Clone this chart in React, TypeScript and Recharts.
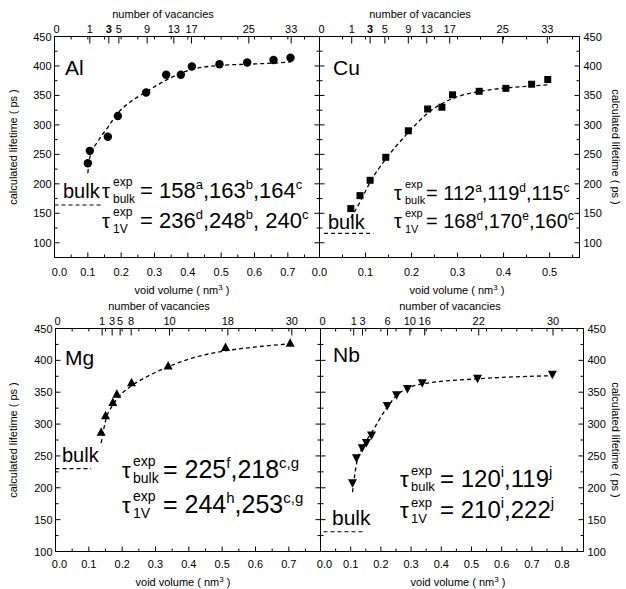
import { ComposedChart, XAxis, YAxis, Line, Scatter } from "recharts";

const FONT = '"Liberation Sans", Arial, sans-serif';

// Al
const alVolume = [0.1, 0.106, 0.16, 0.19, 0.275, 0.335, 0.379, 0.412, 0.495, 0.578, 0.657, 0.708];
const alLifetime = [235, 256, 280, 315, 355, 385, 385, 399, 403, 406, 410, 414];
const alFitVolume = [0.1, 0.106, 0.13, 0.16, 0.19, 0.23, 0.275, 0.335, 0.41, 0.5, 0.58, 0.66, 0.71];
const alFitLifetime = [218, 245, 272, 296, 320, 340, 356, 376, 394, 401, 403, 405, 407];
const alBulkVolume = [0, 0.14];
const alBulkLifetime = [164, 164];
const alVacancyCount = [0, 1, 3, 5, 9, 13, 17, 25, 33];
const alVacancyVolume = [0, 0.106, 0.163, 0.193, 0.278, 0.358, 0.411, 0.583, 0.71];

// Cu
const cuVolume = [0.068, 0.088, 0.11, 0.144, 0.193, 0.235, 0.266, 0.289, 0.347, 0.405, 0.461, 0.496];
const cuLifetime = [158, 180, 206, 245, 290, 327, 330, 351, 357, 362, 369, 377];
const cuFitVolume = [0.068, 0.09, 0.11, 0.144, 0.193, 0.235, 0.29, 0.35, 0.41, 0.46, 0.5];
const cuFitLifetime = [142, 172, 203, 242, 287, 320, 345, 357, 363, 366, 368];
const cuBulkVolume = [0.01, 0.117];
const cuBulkLifetime = [116, 116];
const cuVacancyCount = [0, 1, 3, 5, 9, 13, 17, 25, 33];
const cuVacancyVolume = [0, 0.07, 0.11, 0.142, 0.193, 0.233, 0.283, 0.398, 0.495];

// Mg
const mgVolume = [0.137, 0.15, 0.172, 0.184, 0.228, 0.338, 0.51, 0.704];
const mgLifetime = [287, 313, 334, 347, 365, 391, 420, 427];
const mgFitVolume = [0.137, 0.15, 0.172, 0.19, 0.228, 0.28, 0.338, 0.42, 0.51, 0.6, 0.704];
const mgFitLifetime = [270, 305, 330, 343, 360, 376, 390, 405, 415, 421, 426];
const mgBulkVolume = [0, 0.107];
const mgBulkLifetime = [230, 230];
const mgVacancyCount = [0, 1, 3, 5, 8, 10, 18, 30];
const mgVacancyVolume = [0, 0.14, 0.17, 0.194, 0.227, 0.342, 0.517, 0.709];

// Nb
const nbVolume = [0.106, 0.119, 0.138, 0.152, 0.169, 0.221, 0.252, 0.288, 0.337, 0.52, 0.768];
const nbLifetime = [208, 247, 263, 271, 283, 329, 346, 356, 365, 372, 378];
const nbFitVolume = [0.106, 0.12, 0.138, 0.17, 0.22, 0.25, 0.288, 0.337, 0.52, 0.768];
const nbFitLifetime = [193, 240, 262, 287, 326, 344, 356, 363, 371, 376];
const nbBulkVolume = [0.01, 0.139];
const nbBulkLifetime = [131, 131];
const nbVacancyCount = [0, 1, 3, 6, 10, 16, 22, 30];
const nbVacancyVolume = [0, 0.11, 0.139, 0.222, 0.296, 0.345, 0.524, 0.77];

// ticks
const xTicks08 = [0, 0.05, 0.1, 0.15, 0.2, 0.25, 0.3, 0.35, 0.4, 0.45, 0.5, 0.55, 0.6, 0.65, 0.7, 0.75];
const xTicks05 = [0, 0.05, 0.1, 0.15, 0.2, 0.25, 0.3, 0.35, 0.4, 0.45, 0.5, 0.55];
const xTicks09 = [0, 0.05, 0.1, 0.15, 0.2, 0.25, 0.3, 0.35, 0.4, 0.45, 0.5, 0.55, 0.6, 0.65, 0.7, 0.75, 0.8, 0.85];
const yTicksTop = [75, 100, 125, 150, 175, 200, 225, 250, 275, 300, 325, 350, 375, 400, 425, 450];
const yTicksBottom = [100, 125, 150, 175, 200, 225, 250, 275, 300, 325, 350, 375, 400, 425, 450];

type Pt = { x: number; y: number };
const pts = (xs: number[], ys: number[]): Pt[] => xs.map((x, i) => ({ x, y: ys[i] }));

const circle = (s: any) => <circle cx={s.cx} cy={s.cy} r={4.2} fill="#000" />;
const square = (s: any) => <rect x={s.cx - 3.5} y={s.cy - 3.5} width={7} height={7} fill="#000" />;
const triUp = (s: any) => (
  <polygon points={`${s.cx},${s.cy - 5} ${s.cx + 4.5},${s.cy + 3.5} ${s.cx - 4.5},${s.cy + 3.5}`} fill="#000" />
);
const triDown = (s: any) => (
  <polygon points={`${s.cx},${s.cy + 5} ${s.cx + 4.5},${s.cy - 3.5} ${s.cx - 4.5},${s.cy - 3.5}`} fill="#000" />
);

const isMajorX = (v: number) => Math.round(v * 100) % 10 === 0;
const axisLine = { stroke: "#000", strokeWidth: 1 };

// plot: the rectangle of the data area in the panel's own pixels
function Panel(p: any) {
  const vac = new Map<number, number>(p.vacVolume.map((v: number, i: number) => [v, p.vacCount[i]]));
  const topTicks = [...p.vacVolume, ...p.xTicks.filter((v: number) => v > 0)];
  const [pl, pt, pr, pb] = p.plot;
  const margin = { left: pl - 1, top: pt - 1, right: p.width - pr - 1, bottom: p.height - pb - 1 };

  const bottomTick = ({ x, payload }: any) => {
    const major = isMajorX(payload.value);
    return (
      <g>
        <line x1={x} x2={x} y1={pb} y2={pb - (major ? 5 : 3)} stroke="#000" />
        {major && (
          <text
            x={x + (payload.value === 0 ? p.zeroShift : 0)}
            y={pb + p.labelGap}
            textAnchor="middle"
            fontSize={11}
            fontFamily={FONT}
            fill="#000"
          >
            {payload.value.toFixed(1)}
          </text>
        )}
      </g>
    );
  };
  const topTick = ({ x, payload }: any) => {
    const n = vac.get(payload.value);
    return (
      <g>
        <line x1={x} x2={x} y1={pt} y2={pt + (n !== undefined ? 7 : 3)} stroke="#000" />
        {n !== undefined && (
          <text
            x={x + (n === 0 ? 2 : 0)}
            y={pt - 4}
            textAnchor="middle"
            fontSize={11}
            fontFamily={FONT}
            fontWeight={p.boldThree && n === 3 ? "bold" : "normal"}
            fill="#000"
          >
            {n}
          </text>
        )}
      </g>
    );
  };
  const leftTick = ({ y, payload }: any) => {
    const major = payload.value % 50 === 0;
    return (
      <g>
        <line x1={pl} x2={pl + (major ? 5 : 3)} y1={y} y2={y} stroke="#000" />
        {major && p.leftLabels && (
          <text x={pl - 3} y={y + 4} textAnchor="end" fontSize={11} fontFamily={FONT} fill="#000">
            {payload.value}
          </text>
        )}
      </g>
    );
  };
  const rightTick = ({ y, payload }: any) => {
    const major = payload.value % 50 === 0;
    return (
      <g>
        <line x1={pr} x2={pr - (major ? 5 : 3)} y1={y} y2={y} stroke="#000" />
        {major && p.rightLabels && (
          <text x={pr + 4} y={y + 4} textAnchor="start" fontSize={11} fontFamily={FONT} fill="#000">
            {payload.value}
          </text>
        )}
      </g>
    );
  };

  const common = { type: "number" as const, allowDataOverflow: true, interval: 0 as const, tickSize: 0, tickMargin: 0, tickLine: false, axisLine };

  return (
    <div style={{ position: "absolute", left: p.left, top: p.top }}>
      <ComposedChart width={p.width} height={p.height} margin={margin}>
        <XAxis xAxisId="b" dataKey="x" domain={p.xDomain} ticks={p.xTicks} height={1} tick={bottomTick} {...common} />
        <XAxis xAxisId="t" orientation="top" dataKey="x" domain={p.xDomain} ticks={topTicks} height={1} tick={topTick} {...common} />
        <YAxis yAxisId="l" dataKey="y" domain={p.yDomain} ticks={p.yTicks} width={1} tick={leftTick} {...common} />
        <YAxis yAxisId="r" orientation="right" dataKey="y" domain={p.yDomain} ticks={p.yTicks} width={1} tick={rightTick} {...common} />
        <Line
          xAxisId="b"
          yAxisId="l"
          data={p.bulk}
          dataKey="y"
          type="linear"
          stroke="#000"
          strokeWidth={1.1}
          strokeDasharray="4 3"
          dot={false}
          activeDot={false}
          isAnimationActive={false}
        />
        <Line
          xAxisId="b"
          yAxisId="l"
          data={p.fit}
          dataKey="y"
          type="monotone"
          stroke="#000"
          strokeWidth={1.3}
          strokeDasharray="4 3"
          dot={false}
          activeDot={false}
          isAnimationActive={false}
        />
        <Scatter xAxisId="b" yAxisId="l" data={p.points} dataKey="y" shape={p.shape} isAnimationActive={false} />
      </ComposedChart>
    </div>
  );
}

function Tau({ tx, y, vx, sub, parts, ts, ss, vs, vss, up = 12, down = 5 }: any) {
  const shift = vs * 0.42;
  return (
    <g fontFamily={FONT} fill="#000">
      <text x={tx} y={y} fontSize={ts}>τ</text>
      <text x={tx + 11} y={y - up} fontSize={ss}>exp</text>
      <text x={tx + 11} y={y + down} fontSize={ss}>{sub}</text>
      <text x={vx} y={y} fontSize={vs}>
        {parts.map(([a, b]: string[], i: number) => [
          <tspan key={"a" + i} dy={i === 0 ? 0 : shift}>{a}</tspan>,
          <tspan key={"b" + i} dy={-shift} fontSize={vss}>{b}</tspan>,
        ])}
      </text>
    </g>
  );
}

function VoidTitle({ x, y }: { x: number; y: number }) {
  return (
    <text x={x} y={y} textAnchor="middle" fontSize={11} fontFamily={FONT} fill="#000">
      void volume  ( nm
      <tspan dy={-4} fontSize={8}>3</tspan>
      <tspan dy={4}> )</tspan>
    </text>
  );
}

function Overlay() {
  const t = { fontFamily: FONT, fill: "#000" };
  return (
    <svg width={626} height={589} style={{ position: "absolute", left: 0, top: 0, pointerEvents: "none" }}>
      {/* axis titles */}
      <text x={163} y={18} textAnchor="middle" fontSize={11} {...t}>number of vacancies</text>
      <text x={420} y={18} textAnchor="middle" fontSize={11} {...t}>number of vacancies</text>
      <text x={159} y={310} textAnchor="middle" fontSize={11} {...t}>number of vacancies</text>
      <text x={450} y={310} textAnchor="middle" fontSize={11} {...t}>number of vacancies</text>
      <VoidTitle x={182} y={294} />
      <VoidTitle x={457} y={294} />
      <VoidTitle x={183} y={586} />
      <VoidTitle x={458} y={586} />
      <text x={17} y={147} transform="rotate(-90 17 147)" textAnchor="middle" fontSize={11} {...t}>
        calculated lifetime ( ps )
      </text>
      <text x={17} y={440} transform="rotate(-90 17 440)" textAnchor="middle" fontSize={11} {...t}>
        calculated lifetime ( ps )
      </text>
      <text x={612} y={147} transform="rotate(90 612 147)" textAnchor="middle" fontSize={11} {...t}>
        calculated lifetime ( ps )
      </text>
      <text x={612} y={440} transform="rotate(90 612 440)" textAnchor="middle" fontSize={11} {...t}>
        calculated lifetime ( ps )
      </text>

      {/* element names */}
      <text x={65} y={75} fontSize={21} {...t}>Al</text>
      <text x={333} y={75} fontSize={21} {...t}>Cu</text>
      <text x={65} y={365} fontSize={21} {...t}>Mg</text>
      <text x={333} y={362} fontSize={21} {...t}>Nb</text>

      {/* bulk labels */}
      <text x={63} y={198} fontSize={20} {...t}>bulk</text>
      <text x={328} y={229} fontSize={20} {...t}>bulk</text>
      <text x={62} y={462} fontSize={20} {...t}>bulk</text>
      <text x={332} y={525} fontSize={21} {...t}>bulk</text>

      {/* experimental values */}
      <Tau tx={102} y={198} vx={140} sub="bulk" ts={20} ss={12} vs={22} vss={13}
        parts={[["= 158", "a"], [",163", "b"], [",164", "c"]]} />
      <Tau tx={102} y={228} vx={140} sub="1V" ts={20} ss={12} vs={22} vss={13}
        parts={[["= 236", "d"], [",248", "b"], [", 240", "c"]]} />
      <Tau tx={394} y={200} vx={426} sub="bulk" ts={20} ss={11} vs={20} vss={12} down={4}
        parts={[["= 112", "a"], [",119", "d"], [",115", "c"]]} />
      <Tau tx={394} y={228} vx={426} sub="1V" ts={20} ss={11} vs={20} vss={12} up={11}
        parts={[["= 168", "d"], [",170", "e"], [",160", "c"]]} />
      <Tau tx={122} y={478} vx={163} sub="bulk" ts={22} ss={14} vs={25} vss={15}
        parts={[["= 225", "f"], [",218", "c,g"]]} />
      <Tau tx={122} y={513} vx={163} sub="1V" ts={22} ss={14} vs={25} vss={15}
        parts={[["= 244", "h"], [",253", "c,g"]]} />
      <Tau tx={400} y={487} vx={440} sub="bulk" ts={22} ss={13} vs={24} vss={15} down={4}
        parts={[["= 120", "i"], [",119", "j"]]} />
      <Tau tx={400} y={518} vx={440} sub="1V" ts={22} ss={13} vs={24} vss={15} up={11}
        parts={[["= 210", "i"], [",222", "j"]]} />
    </svg>
  );
}

export default function App() {
  return (
    <div style={{ position: "absolute", left: 0, top: 0, width: 626, height: 589, background: "#fff" }}>
      <Panel
        left={0} top={0} width={330} height={300} plot={[54.5, 36.5, 319.5, 257.5]}
        xDomain={[0, 0.795]} yDomain={[75, 450]} xTicks={xTicks08} yTicks={yTicksTop}
        vacVolume={alVacancyVolume} vacCount={alVacancyCount} boldThree
        leftLabels rightLabels={false} labelGap={18} zeroShift={5}
        points={pts(alVolume, alLifetime)} fit={pts(alFitVolume, alFitLifetime)}
        bulk={pts(alBulkVolume, alBulkLifetime)} shape={circle}
      />
      <Panel
        left={300} top={0} width={326} height={300} plot={[19.5, 36.5, 279.5, 257.5]}
        xDomain={[0, 0.565]} yDomain={[75, 450]} xTicks={xTicks05} yTicks={yTicksTop}
        vacVolume={cuVacancyVolume} vacCount={cuVacancyCount} boldThree
        leftLabels={false} rightLabels labelGap={18} zeroShift={0}
        points={pts(cuVolume, cuLifetime)} fit={pts(cuFitVolume, cuFitLifetime)}
        bulk={pts(cuBulkVolume, cuBulkLifetime)} shape={square}
      />
      <Panel
        left={0} top={300} width={330} height={289} plot={[55.5, 28.5, 320.5, 251.5]}
        xDomain={[0, 0.795]} yDomain={[100, 450]} xTicks={xTicks08} yTicks={yTicksBottom}
        vacVolume={mgVacancyVolume} vacCount={mgVacancyCount} boldThree={false}
        leftLabels rightLabels={false} labelGap={16} zeroShift={4}
        points={pts(mgVolume, mgLifetime)} fit={pts(mgFitVolume, mgFitLifetime)}
        bulk={pts(mgBulkVolume, mgBulkLifetime)} shape={triUp}
      />
      <Panel
        left={300} top={300} width={326} height={289} plot={[20.5, 28.5, 283.5, 251.5]}
        xDomain={[0, 0.871]} yDomain={[100, 450]} xTicks={xTicks09} yTicks={yTicksBottom}
        vacVolume={nbVacancyVolume} vacCount={nbVacancyCount} boldThree={false}
        leftLabels={false} rightLabels labelGap={16} zeroShift={4}
        points={pts(nbVolume, nbLifetime)} fit={pts(nbFitVolume, nbFitLifetime)}
        bulk={pts(nbBulkVolume, nbBulkLifetime)} shape={triDown}
      />
      <Overlay />
    </div>
  );
}
